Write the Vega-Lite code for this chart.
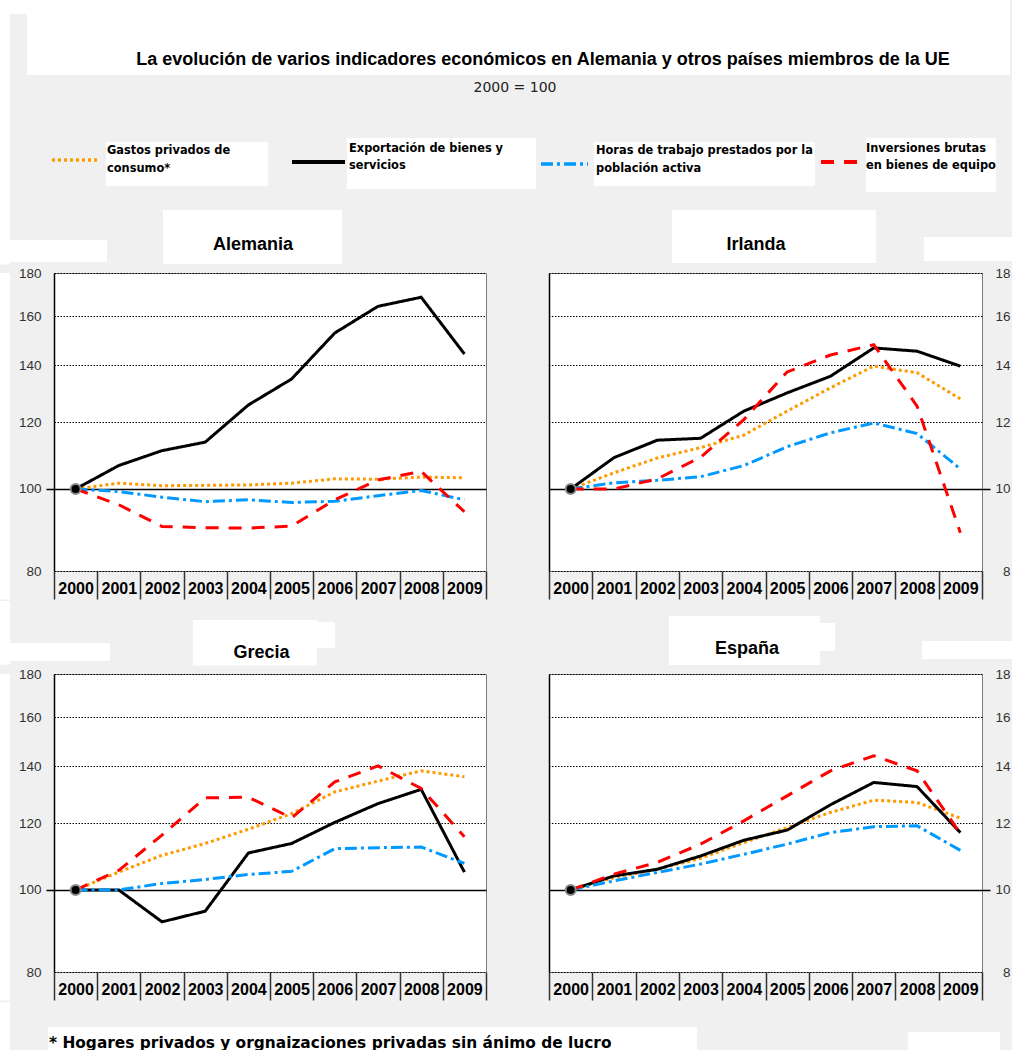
{
  "$schema": "https://vega.github.io/schema/vega-lite/v6.json",
  "background": "#f0f0f0",
  "padding": 0,
  "spacing": 0,
  "config": {
    "view": {"stroke": null},
    "concat": {"spacing": 0},
    "axis": {"labelFont": "Liberation Sans"},
    "title": {"font": "Liberation Sans", "color": "black"}
  },
  "datasets": {
    "d": [
      {"pais": "Alemania", "anio": 2000, "gastos": 100, "export": 100, "horas": 100, "inversiones": 100},
      {"pais": "Alemania", "anio": 2001, "gastos": 101.6, "export": 106.6, "horas": 99.3, "inversiones": 95.8},
      {"pais": "Alemania", "anio": 2002, "gastos": 100.9, "export": 111.0, "horas": 97.8, "inversiones": 90.3},
      {"pais": "Alemania", "anio": 2003, "gastos": 101.0, "export": 113.6, "horas": 96.6, "inversiones": 90.0},
      {"pais": "Alemania", "anio": 2004, "gastos": 101.1, "export": 125.7, "horas": 97.1, "inversiones": 89.9},
      {"pais": "Alemania", "anio": 2005, "gastos": 101.6, "export": 134.9, "horas": 96.4, "inversiones": 90.4},
      {"pais": "Alemania", "anio": 2006, "gastos": 102.8, "export": 152.9, "horas": 96.7, "inversiones": 97.1},
      {"pais": "Alemania", "anio": 2007, "gastos": 102.7, "export": 164.4, "horas": 98.2, "inversiones": 102.5},
      {"pais": "Alemania", "anio": 2008, "gastos": 103.3, "export": 168.5, "horas": 99.6, "inversiones": 104.9},
      {"pais": "Alemania", "anio": 2009, "gastos": 103.1, "export": 144.4, "horas": 97.1, "inversiones": 94.0},
      {"pais": "Irlanda", "anio": 2000, "gastos": 100, "export": 100, "horas": 100, "inversiones": 100},
      {"pais": "Irlanda", "anio": 2001, "gastos": 104.5, "export": 108.9, "horas": 101.7, "inversiones": 100.0},
      {"pais": "Irlanda", "anio": 2002, "gastos": 108.8, "export": 114.2, "horas": 102.4, "inversiones": 102.8},
      {"pais": "Irlanda", "anio": 2003, "gastos": 111.9, "export": 114.8, "horas": 103.4, "inversiones": 109.0},
      {"pais": "Irlanda", "anio": 2004, "gastos": 115.8, "export": 123.6, "horas": 106.6, "inversiones": 120.8},
      {"pais": "Irlanda", "anio": 2005, "gastos": 123.6, "export": 129.9, "horas": 112.2, "inversiones": 137.5},
      {"pais": "Irlanda", "anio": 2006, "gastos": 131.7, "export": 135.9, "horas": 116.5, "inversiones": 144.0},
      {"pais": "Irlanda", "anio": 2007, "gastos": 139.7, "export": 146.8, "horas": 119.7, "inversiones": 148.1},
      {"pais": "Irlanda", "anio": 2008, "gastos": 137.2, "export": 145.5, "horas": 116.3, "inversiones": 125.3},
      {"pais": "Irlanda", "anio": 2009, "gastos": 127.8, "export": 139.7, "horas": 105.6, "inversiones": 88.8},
      {"pais": "Grecia", "anio": 2000, "gastos": 100, "export": 100, "horas": 100, "inversiones": 100},
      {"pais": "Grecia", "anio": 2001, "gastos": 105.0, "export": 100.0, "horas": 100.0, "inversiones": 105.5},
      {"pais": "Grecia", "anio": 2002, "gastos": 109.9, "export": 91.7, "horas": 101.8, "inversiones": 116.1},
      {"pais": "Grecia", "anio": 2003, "gastos": 113.5, "export": 94.4, "horas": 102.9, "inversiones": 128.5},
      {"pais": "Grecia", "anio": 2004, "gastos": 118.0, "export": 110.6, "horas": 104.3, "inversiones": 128.7},
      {"pais": "Grecia", "anio": 2005, "gastos": 123.1, "export": 113.5, "horas": 105.2, "inversiones": 121.7},
      {"pais": "Grecia", "anio": 2006, "gastos": 130.6, "export": 120.2, "horas": 111.9, "inversiones": 134.2},
      {"pais": "Grecia", "anio": 2007, "gastos": 134.5, "export": 126.5, "horas": 112.2, "inversiones": 140.2},
      {"pais": "Grecia", "anio": 2008, "gastos": 138.3, "export": 131.5, "horas": 112.4, "inversiones": 131.8},
      {"pais": "Grecia", "anio": 2009, "gastos": 136.1, "export": 105.0, "horas": 107.5, "inversiones": 115.6},
      {"pais": "España", "anio": 2000, "gastos": 100, "export": 100, "horas": 100, "inversiones": 100},
      {"pais": "España", "anio": 2001, "gastos": 103.4, "export": 103.9, "horas": 102.5, "inversiones": 104.4},
      {"pais": "España", "anio": 2002, "gastos": 105.8, "export": 105.8, "horas": 104.9, "inversiones": 107.8},
      {"pais": "España", "anio": 2003, "gastos": 109.0, "export": 109.7, "horas": 107.3, "inversiones": 113.3},
      {"pais": "España", "anio": 2004, "gastos": 113.8, "export": 114.5, "horas": 110.2, "inversiones": 120.7},
      {"pais": "España", "anio": 2005, "gastos": 118.5, "export": 117.7, "horas": 113.3, "inversiones": 129.2},
      {"pais": "España", "anio": 2006, "gastos": 123.5, "export": 126.1, "horas": 116.9, "inversiones": 138.3},
      {"pais": "España", "anio": 2007, "gastos": 127.7, "export": 134.0, "horas": 118.8, "inversiones": 144.1},
      {"pais": "España", "anio": 2008, "gastos": 126.9, "export": 132.5, "horas": 119.1, "inversiones": 138.3},
      {"pais": "España", "anio": 2009, "gastos": 121.6, "export": 116.9, "horas": 111.4, "inversiones": 116.6}
    ]
  },
  "vconcat": [
    {"spacing": 0, "hconcat": [
      {"width": 10, "height": 75, "data": {"values": []}, "mark": "point", "encoding": {}, "view": {"fill": "white", "stroke": null}},
      {"spacing": 0, "vconcat": [
        {"width": 17, "height": 14, "data": {"values": []}, "mark": "point", "encoding": {}, "view": {"fill": "white", "stroke": null}},
        {"width": 17, "height": 61, "data": {"values": []}, "mark": "point", "encoding": {}}
      ]},
      {"width": 983, "height": 75, "data": {"values": []}, "mark": "point", "encoding": {}, "view": {"fill": "white", "stroke": null},
       "title": {"text": "La evolución de varios indicadores económicos en Alemania y otros países miembros de la UE", "orient": "bottom", "anchor": "middle", "frame": "group", "offset": -10, "baseline": "alphabetic", "dx": 24.5, "font": "Liberation Sans", "fontSize": 18, "fontWeight": "bold", "color": "black"}}
    ]},
    {"spacing": 0, "hconcat": [
      {"width": 10, "height": 63, "data": {"values": []}, "mark": "point", "encoding": {}, "view": {"fill": "white", "stroke": null}},
      {"width": 1002, "height": 63, "data": {"values": []}, "mark": "point", "encoding": {},
       "title": {"text": "2000 = 100", "orient": "bottom", "anchor": "middle", "frame": "group", "offset": -46, "baseline": "alphabetic", "dx": 4, "font": "DejaVu Sans", "fontSize": 14, "fontWeight": "normal", "color": "#222"}}
    ]},
    {"spacing": 0, "hconcat": [
      {"width": 10, "height": 54, "data": {"values": []}, "mark": "point", "encoding": {}, "view": {"fill": "white", "stroke": null}},
      {"width": 40, "height": 54, "data": {"values": []}, "mark": "point", "encoding": {}},
      {"width": 56, "height": 44, "data": {"values": [{"serie": "gastos"}]}, "mark": {"type": "rule", "strokeWidth": 3.5},
       "encoding": {
         "x": {"datum": 0, "type": "quantitative", "scale": {"domain": [-0.041667, 1.125], "nice": false, "zero": false}, "axis": null},
         "x2": {"datum": 1},
         "y": {"datum": 0.5, "type": "quantitative", "scale": {"domain": [0, 1]}, "axis": null},
         "color": {"field": "serie", "type": "nominal", "scale": {"domain": ["gastos", "export", "horas", "inversiones"], "range": ["#ff9900", "#000000", "#0099ff", "#ff0000"]}, "legend": null},
         "strokeDash": {"field": "serie", "type": "nominal", "scale": {"domain": ["gastos", "export", "horas", "inversiones"], "range": [[3, 3], [1, 0], [12, 4, 3, 4], [13, 10]]}, "legend": null}
       }},
      {"spacing": 0, "vconcat": [
        {"width": 162, "height": 4, "data": {"values": []}, "mark": "point", "encoding": {}},
        {"width": 162, "height": 44, "data": {"values": []}, "mark": "point", "encoding": {}, "view": {"fill": "white", "stroke": null},
         "title": {"text": ["Gastos privados de", "consumo*"], "orient": "bottom", "anchor": "start", "frame": "group", "offset": -31.7, "baseline": "alphabetic", "dx": 1, "font": "DejaVu Sans", "fontSize": 11.4, "fontWeight": "bold", "color": "black", "lineHeight": 17.3}}
      ]},
      {"width": 79, "height": 48, "data": {"values": [{"serie": "export"}]}, "mark": {"type": "rule", "strokeWidth": 4},
       "encoding": {
         "x": {"datum": 0, "type": "quantitative", "scale": {"domain": [-0.45283, 1.03774], "nice": false, "zero": false}, "axis": null},
         "x2": {"datum": 1},
         "y": {"datum": 0.5, "type": "quantitative", "scale": {"domain": [0, 1]}, "axis": null},
         "color": {"field": "serie", "type": "nominal", "scale": {"domain": ["gastos", "export", "horas", "inversiones"], "range": ["#ff9900", "#000000", "#0099ff", "#ff0000"]}, "legend": null},
         "strokeDash": {"field": "serie", "type": "nominal", "scale": {"domain": ["gastos", "export", "horas", "inversiones"], "range": [[3, 3], [1, 0], [12, 4, 3, 4], [13, 10]]}, "legend": null}
       }},
      {"width": 189, "height": 51, "data": {"values": []}, "mark": "point", "encoding": {}, "view": {"fill": "white", "stroke": null},
       "title": {"text": ["Exportación de bienes y", "servicios"], "orient": "bottom", "anchor": "start", "frame": "group", "offset": -37.5, "baseline": "alphabetic", "dx": 2, "font": "DejaVu Sans", "fontSize": 11.4, "fontWeight": "bold", "color": "black", "lineHeight": 17.3}},
      {"width": 58, "height": 52, "data": {"values": [{"serie": "horas"}]}, "mark": {"type": "rule", "strokeWidth": 3.5},
       "encoding": {
         "x": {"datum": 0, "type": "quantitative", "scale": {"domain": [-0.106383, 1.12766], "nice": false, "zero": false}, "axis": null},
         "x2": {"datum": 1},
         "y": {"datum": 0.5, "type": "quantitative", "scale": {"domain": [0, 1]}, "axis": null},
         "color": {"field": "serie", "type": "nominal", "scale": {"domain": ["gastos", "export", "horas", "inversiones"], "range": ["#ff9900", "#000000", "#0099ff", "#ff0000"]}, "legend": null},
         "strokeDash": {"field": "serie", "type": "nominal", "scale": {"domain": ["gastos", "export", "horas", "inversiones"], "range": [[3, 3], [1, 0], [12, 4, 3, 4], [13, 10]]}, "legend": null}
       }},
      {"spacing": 0, "vconcat": [
        {"width": 221, "height": 4, "data": {"values": []}, "mark": "point", "encoding": {}},
        {"width": 221, "height": 44, "data": {"values": []}, "mark": "point", "encoding": {}, "view": {"fill": "white", "stroke": null},
         "title": {"text": ["Horas de trabajo prestados por la", "población activa"], "orient": "bottom", "anchor": "start", "frame": "group", "offset": -31.7, "baseline": "alphabetic", "dx": 2, "font": "DejaVu Sans", "fontSize": 11.4, "fontWeight": "bold", "color": "black", "lineHeight": 17.3}}
      ]},
      {"width": 51, "height": 48, "data": {"values": [{"serie": "inversiones"}]}, "mark": {"type": "rule", "strokeWidth": 4},
       "encoding": {
         "x": {"datum": 0, "type": "quantitative", "scale": {"domain": [-0.146341, 1.097561], "nice": false, "zero": false}, "axis": null},
         "x2": {"datum": 1},
         "y": {"datum": 0.5, "type": "quantitative", "scale": {"domain": [0, 1]}, "axis": null},
         "color": {"field": "serie", "type": "nominal", "scale": {"domain": ["gastos", "export", "horas", "inversiones"], "range": ["#ff9900", "#000000", "#0099ff", "#ff0000"]}, "legend": null},
         "strokeDash": {"field": "serie", "type": "nominal", "scale": {"domain": ["gastos", "export", "horas", "inversiones"], "range": [[3, 3], [1, 0], [12, 4, 3, 4], [13, 10]]}, "legend": null}
       }},
      {"width": 130, "height": 54, "data": {"values": []}, "mark": "point", "encoding": {}, "view": {"fill": "white", "stroke": null},
       "title": {"text": ["Inversiones brutas", "en bienes de equipo"], "orient": "bottom", "anchor": "start", "frame": "group", "offset": -40.3, "baseline": "alphabetic", "dx": 0, "font": "DejaVu Sans", "fontSize": 11.4, "fontWeight": "bold", "color": "black", "lineHeight": 17.3}}
    ]},
    {"spacing": 0, "hconcat": [
      {"width": 10, "height": 72.5, "data": {"values": []}, "mark": "point", "encoding": {}, "view": {"fill": "white", "stroke": null}},
      {"spacing": 0, "vconcat": [
        {"width": 97, "height": 48, "data": {"values": []}, "mark": "point", "encoding": {}},
        {"width": 97, "height": 22, "data": {"values": []}, "mark": "point", "encoding": {}, "view": {"fill": "white", "stroke": null}}
      ]},
      {"width": 56, "height": 1, "data": {"values": []}, "mark": "point", "encoding": {}},
      {"spacing": 0, "vconcat": [
        {"width": 179, "height": 18, "data": {"values": []}, "mark": "point", "encoding": {}},
        {"width": 179, "height": 54, "data": {"values": []}, "mark": "point", "encoding": {}, "view": {"fill": "white", "stroke": null},
         "title": {"text": "Alemania", "orient": "bottom", "anchor": "middle", "frame": "group", "offset": -14, "baseline": "alphabetic", "dx": 0.5, "font": "Liberation Sans", "fontSize": 18, "fontWeight": "bold", "color": "black"}}
      ]},
      {"width": 330, "height": 1, "data": {"values": []}, "mark": "point", "encoding": {}},
      {"spacing": 0, "vconcat": [
        {"width": 204, "height": 18, "data": {"values": []}, "mark": "point", "encoding": {}},
        {"width": 204, "height": 53, "data": {"values": []}, "mark": "point", "encoding": {}, "view": {"fill": "white", "stroke": null},
         "title": {"text": "Irlanda", "orient": "bottom", "anchor": "middle", "frame": "group", "offset": -13, "baseline": "alphabetic", "dx": -18, "font": "Liberation Sans", "fontSize": 18, "fontWeight": "bold", "color": "black"}}
      ]},
      {"width": 48, "height": 1, "data": {"values": []}, "mark": "point", "encoding": {}},
      {"spacing": 0, "vconcat": [
        {"width": 88, "height": 45, "data": {"values": []}, "mark": "point", "encoding": {}},
        {"width": 88, "height": 24, "data": {"values": []}, "mark": "point", "encoding": {}, "view": {"fill": "white", "stroke": null}}
      ]}
    ]},
    {"spacing": 0, "hconcat": [
      {"width": 10, "height": 326.5, "data": {"values": []}, "mark": "point", "encoding": {}, "view": {"fill": "white", "stroke": null}},
      {"width": 6.5, "height": 1, "data": {"values": []}, "mark": "point", "encoding": {}},
      {
        "width": 432, "height": 298,
        "data": {"name": "d"},
        "transform": [{"filter": "datum.pais === 'Alemania'"}, {"fold": ["gastos", "export", "horas", "inversiones"], "as": ["serie", "v"]}],
        "view": {"fill": "white", "stroke": "#7a7a7a", "strokeWidth": 1},
        "encoding": {
          "x": {"field": "anio", "type": "ordinal", "bandPosition": 0.5, "scale": {"type": "band", "paddingInner": 0, "paddingOuter": 0},
                "axis": {"title": null, "orient": "bottom", "tickBand": "extent", "ticks": true, "tickSize": 28, "tickWidth": 1.5, "tickColor": "#333", "domain": false, "grid": false, "labelAngle": 0, "labelFont": "Liberation Sans", "labelFontSize": 16, "labelFontWeight": "bold", "labelColor": "black", "labelPadding": -19}},
          "y": {"field": "v", "type": "quantitative", "scale": {"type": "log", "domain": [80, 180], "nice": false},
                "axis": {"title": null, "orient": "left", "values": [80, 100, 120, 140, 160, 180], "format": "d", "grid": true, "gridColor": "black", "gridOpacity": 1,
                         "gridWidth": {"condition": {"test": "datum.value === 100", "value": 1.5}, "value": 1},
                         "gridDash": {"condition": {"test": "datum.value === 100", "value": [1, 0]}, "value": [1.5, 1.5]},
                         "ticks": true, "tickSize": 8, "tickWidth": 1.5,
                         "tickColor": {"condition": {"test": "datum.value === 100", "value": "black"}, "value": "transparent"},
                         "domain": true, "domainColor": "black", "domainWidth": 1.5, "labelFont": "Liberation Sans", "labelFontSize": 13.5, "labelColor": "#333", "labelPadding": 5}}
        },
        "layer": [
          {"mark": {"type": "line", "strokeWidth": 3},
           "encoding": {
             "color": {"field": "serie", "type": "nominal", "scale": {"domain": ["gastos", "export", "horas", "inversiones"], "range": ["#ff9900", "#000000", "#0099ff", "#ff0000"]}, "legend": null},
             "strokeDash": {"field": "serie", "type": "nominal", "scale": {"domain": ["gastos", "export", "horas", "inversiones"], "range": [[3, 3], [1, 0], [12, 4, 3, 4], [13, 10]]}, "legend": null}
           }},
          {"transform": [{"filter": "datum.anio === 2000 && datum.serie === 'export'"}],
           "mark": {"type": "point", "filled": true, "fill": "black", "stroke": "#8a8a8a", "strokeWidth": 2, "size": 100, "opacity": 1}}
        ]
      },
      {"width": 59, "height": 1, "data": {"values": []}, "mark": "point", "encoding": {}},
      {
        "width": 433, "height": 298,
        "data": {"name": "d"},
        "transform": [{"filter": "datum.pais === 'Irlanda'"}, {"fold": ["gastos", "export", "horas", "inversiones"], "as": ["serie", "v"]}],
        "view": {"fill": "white", "stroke": "#7a7a7a", "strokeWidth": 1},
        "encoding": {
          "x": {"field": "anio", "type": "ordinal", "bandPosition": 0.5, "scale": {"type": "band", "paddingInner": 0, "paddingOuter": 0},
                "axis": {"title": null, "orient": "bottom", "tickBand": "extent", "ticks": true, "tickSize": 28, "tickWidth": 1.5, "tickColor": "#333", "domain": false, "grid": false, "labelAngle": 0, "labelFont": "Liberation Sans", "labelFontSize": 16, "labelFontWeight": "bold", "labelColor": "black", "labelPadding": -19}}
        },
        "layer": [
          {"mark": {"type": "line", "strokeWidth": 3},
           "encoding": {
             "y": {"field": "v", "type": "quantitative", "scale": {"type": "log", "domain": [80, 180], "nice": false},
                   "axis": {"title": null, "orient": "left", "labels": false, "ticks": false, "grid": false, "domain": true, "domainColor": "black", "domainWidth": 1.5}},
             "color": {"field": "serie", "type": "nominal", "scale": {"domain": ["gastos", "export", "horas", "inversiones"], "range": ["#ff9900", "#000000", "#0099ff", "#ff0000"]}, "legend": null},
             "strokeDash": {"field": "serie", "type": "nominal", "scale": {"domain": ["gastos", "export", "horas", "inversiones"], "range": [[3, 3], [1, 0], [12, 4, 3, 4], [13, 10]]}, "legend": null}
           }},
          {"transform": [{"filter": "datum.anio === 2000 && datum.serie === 'export'"}],
           "mark": {"type": "point", "filled": true, "fill": "black", "stroke": "#8a8a8a", "strokeWidth": 2, "size": 100, "opacity": 1},
           "encoding": {
             "y": {"field": "v", "type": "quantitative", "scale": {"type": "log", "domain": [80, 180], "nice": false},
                   "axis": {"title": null, "orient": "right", "values": [80, 100, 120, 140, 160, 180], "format": "d", "grid": true, "gridColor": "black", "gridOpacity": 1,
                            "gridWidth": {"condition": {"test": "datum.value === 100", "value": 1.5}, "value": 1},
                            "gridDash": {"condition": {"test": "datum.value === 100", "value": [1, 0]}, "value": [1.5, 1.5]},
                            "ticks": true, "tickSize": 8, "tickWidth": 1.5,
                            "tickColor": {"condition": {"test": "datum.value === 100", "value": "black"}, "value": "transparent"},
                            "domain": false, "labelFont": "Liberation Sans", "labelFontSize": 13.5, "labelColor": "#333", "labelPadding": 20, "labelAlign": "right",
                            "labelExpr": "substring(datum.label, 0, length(datum.label) - 1)"}}
           }}
        ],
        "resolve": {"axis": {"y": "independent"}}
      }
    ]},
    {"spacing": 0, "hconcat": [
      {"width": 10, "height": 63.75, "data": {"values": []}, "mark": "point", "encoding": {}, "view": {"fill": "white", "stroke": null}},
      {"spacing": 0, "vconcat": [
        {"width": 100, "height": 41.25, "data": {"values": []}, "mark": "point", "encoding": {}},
        {"width": 100, "height": 18, "data": {"values": []}, "mark": "point", "encoding": {}, "view": {"fill": "white", "stroke": null}}
      ]},
      {"width": 83, "height": 1, "data": {"values": []}, "mark": "point", "encoding": {}},
      {"spacing": 0, "vconcat": [
        {"width": 124, "height": 18.25, "data": {"values": []}, "mark": "point", "encoding": {}},
        {"width": 124, "height": 45.5, "data": {"values": []}, "mark": "point", "encoding": {}, "view": {"fill": "white", "stroke": null},
         "title": {"text": "Grecia", "orient": "bottom", "anchor": "middle", "frame": "group", "offset": -7.8, "baseline": "alphabetic", "dx": 6.5, "font": "Liberation Sans", "fontSize": 18, "fontWeight": "bold", "color": "black"}}
      ]},
      {"spacing": 0, "vconcat": [
        {"width": 18, "height": 20.25, "data": {"values": []}, "mark": "point", "encoding": {}},
        {"width": 18, "height": 26, "data": {"values": []}, "mark": "point", "encoding": {}, "view": {"fill": "white", "stroke": null}}
      ]},
      {"width": 334, "height": 1, "data": {"values": []}, "mark": "point", "encoding": {}},
      {"spacing": 0, "vconcat": [
        {"width": 151, "height": 14.25, "data": {"values": []}, "mark": "point", "encoding": {}},
        {"width": 151, "height": 49, "data": {"values": []}, "mark": "point", "encoding": {}, "view": {"fill": "white", "stroke": null},
         "title": {"text": "España", "orient": "bottom", "anchor": "middle", "frame": "group", "offset": -11.3, "baseline": "alphabetic", "dx": 2.5, "font": "Liberation Sans", "fontSize": 18, "fontWeight": "bold", "color": "black"}}
      ]},
      {"spacing": 0, "vconcat": [
        {"width": 15, "height": 21.25, "data": {"values": []}, "mark": "point", "encoding": {}},
        {"width": 15, "height": 28, "data": {"values": []}, "mark": "point", "encoding": {}, "view": {"fill": "white", "stroke": null}}
      ]},
      {"width": 87, "height": 1, "data": {"values": []}, "mark": "point", "encoding": {}},
      {"spacing": 0, "vconcat": [
        {"width": 90, "height": 39.25, "data": {"values": []}, "mark": "point", "encoding": {}},
        {"width": 90, "height": 18, "data": {"values": []}, "mark": "point", "encoding": {}, "view": {"fill": "white", "stroke": null}}
      ]}
    ]},
    {"spacing": 0, "hconcat": [
      {"width": 10, "height": 326.5, "data": {"values": []}, "mark": "point", "encoding": {}, "view": {"fill": "white", "stroke": null}},
      {"width": 6.5, "height": 1, "data": {"values": []}, "mark": "point", "encoding": {}},
      {
        "width": 432, "height": 298,
        "data": {"name": "d"},
        "transform": [{"filter": "datum.pais === 'Grecia'"}, {"fold": ["gastos", "export", "horas", "inversiones"], "as": ["serie", "v"]}],
        "view": {"fill": "white", "stroke": "#7a7a7a", "strokeWidth": 1},
        "encoding": {
          "x": {"field": "anio", "type": "ordinal", "bandPosition": 0.5, "scale": {"type": "band", "paddingInner": 0, "paddingOuter": 0},
                "axis": {"title": null, "orient": "bottom", "tickBand": "extent", "ticks": true, "tickSize": 28, "tickWidth": 1.5, "tickColor": "#333", "domain": false, "grid": false, "labelAngle": 0, "labelFont": "Liberation Sans", "labelFontSize": 16, "labelFontWeight": "bold", "labelColor": "black", "labelPadding": -19}},
          "y": {"field": "v", "type": "quantitative", "scale": {"type": "log", "domain": [80, 180], "nice": false},
                "axis": {"title": null, "orient": "left", "values": [80, 100, 120, 140, 160, 180], "format": "d", "grid": true, "gridColor": "black", "gridOpacity": 1,
                         "gridWidth": {"condition": {"test": "datum.value === 100", "value": 1.5}, "value": 1},
                         "gridDash": {"condition": {"test": "datum.value === 100", "value": [1, 0]}, "value": [1.5, 1.5]},
                         "ticks": true, "tickSize": 8, "tickWidth": 1.5,
                         "tickColor": {"condition": {"test": "datum.value === 100", "value": "black"}, "value": "transparent"},
                         "domain": true, "domainColor": "black", "domainWidth": 1.5, "labelFont": "Liberation Sans", "labelFontSize": 13.5, "labelColor": "#333", "labelPadding": 5}}
        },
        "layer": [
          {"mark": {"type": "line", "strokeWidth": 3},
           "encoding": {
             "color": {"field": "serie", "type": "nominal", "scale": {"domain": ["gastos", "export", "horas", "inversiones"], "range": ["#ff9900", "#000000", "#0099ff", "#ff0000"]}, "legend": null},
             "strokeDash": {"field": "serie", "type": "nominal", "scale": {"domain": ["gastos", "export", "horas", "inversiones"], "range": [[3, 3], [1, 0], [12, 4, 3, 4], [13, 10]]}, "legend": null}
           }},
          {"transform": [{"filter": "datum.anio === 2000 && datum.serie === 'export'"}],
           "mark": {"type": "point", "filled": true, "fill": "black", "stroke": "#8a8a8a", "strokeWidth": 2, "size": 100, "opacity": 1}}
        ]
      },
      {"width": 59, "height": 1, "data": {"values": []}, "mark": "point", "encoding": {}},
      {
        "width": 433, "height": 298,
        "data": {"name": "d"},
        "transform": [{"filter": "datum.pais === 'España'"}, {"fold": ["gastos", "export", "horas", "inversiones"], "as": ["serie", "v"]}],
        "view": {"fill": "white", "stroke": "#7a7a7a", "strokeWidth": 1},
        "encoding": {
          "x": {"field": "anio", "type": "ordinal", "bandPosition": 0.5, "scale": {"type": "band", "paddingInner": 0, "paddingOuter": 0},
                "axis": {"title": null, "orient": "bottom", "tickBand": "extent", "ticks": true, "tickSize": 28, "tickWidth": 1.5, "tickColor": "#333", "domain": false, "grid": false, "labelAngle": 0, "labelFont": "Liberation Sans", "labelFontSize": 16, "labelFontWeight": "bold", "labelColor": "black", "labelPadding": -19}}
        },
        "layer": [
          {"mark": {"type": "line", "strokeWidth": 3},
           "encoding": {
             "y": {"field": "v", "type": "quantitative", "scale": {"type": "log", "domain": [80, 180], "nice": false},
                   "axis": {"title": null, "orient": "left", "labels": false, "ticks": false, "grid": false, "domain": true, "domainColor": "black", "domainWidth": 1.5}},
             "color": {"field": "serie", "type": "nominal", "scale": {"domain": ["gastos", "export", "horas", "inversiones"], "range": ["#ff9900", "#000000", "#0099ff", "#ff0000"]}, "legend": null},
             "strokeDash": {"field": "serie", "type": "nominal", "scale": {"domain": ["gastos", "export", "horas", "inversiones"], "range": [[3, 3], [1, 0], [12, 4, 3, 4], [13, 10]]}, "legend": null}
           }},
          {"transform": [{"filter": "datum.anio === 2000 && datum.serie === 'export'"}],
           "mark": {"type": "point", "filled": true, "fill": "black", "stroke": "#8a8a8a", "strokeWidth": 2, "size": 100, "opacity": 1},
           "encoding": {
             "y": {"field": "v", "type": "quantitative", "scale": {"type": "log", "domain": [80, 180], "nice": false},
                   "axis": {"title": null, "orient": "right", "values": [80, 100, 120, 140, 160, 180], "format": "d", "grid": true, "gridColor": "black", "gridOpacity": 1,
                            "gridWidth": {"condition": {"test": "datum.value === 100", "value": 1.5}, "value": 1},
                            "gridDash": {"condition": {"test": "datum.value === 100", "value": [1, 0]}, "value": [1.5, 1.5]},
                            "ticks": true, "tickSize": 8, "tickWidth": 1.5,
                            "tickColor": {"condition": {"test": "datum.value === 100", "value": "black"}, "value": "transparent"},
                            "domain": false, "labelFont": "Liberation Sans", "labelFontSize": 13.5, "labelColor": "#333", "labelPadding": 20, "labelAlign": "right",
                            "labelExpr": "substring(datum.label, 0, length(datum.label) - 1)"}}
           }}
        ],
        "resolve": {"axis": {"y": "independent"}}
      }
    ]},
    {"spacing": 0, "hconcat": [
      {"width": 10, "height": 49.25, "data": {"values": []}, "mark": "point", "encoding": {}, "view": {"fill": "white", "stroke": null}},
      {"width": 38, "height": 49.25, "data": {"values": []}, "mark": "point", "encoding": {}},
      {"spacing": 0, "vconcat": [
        {"width": 649, "height": 24.25, "data": {"values": []}, "mark": "point", "encoding": {}},
        {"width": 649, "height": 25, "data": {"values": []}, "mark": "point", "encoding": {}, "view": {"fill": "white", "stroke": null},
         "title": {"text": "* Hogares privados y orgnaizaciones privadas sin ánimo de lucro", "orient": "bottom", "anchor": "start", "frame": "group", "offset": -4.5, "baseline": "alphabetic", "dx": 1, "font": "DejaVu Sans", "fontSize": 15.4, "fontWeight": "bold", "color": "black"}}
      ]},
      {"width": 211, "height": 1, "data": {"values": []}, "mark": "point", "encoding": {}},
      {"spacing": 0, "vconcat": [
        {"width": 92, "height": 29.25, "data": {"values": []}, "mark": "point", "encoding": {}},
        {"width": 92, "height": 20, "data": {"values": []}, "mark": "point", "encoding": {}, "view": {"fill": "white", "stroke": null}}
      ]}
    ]}
  ]
}
